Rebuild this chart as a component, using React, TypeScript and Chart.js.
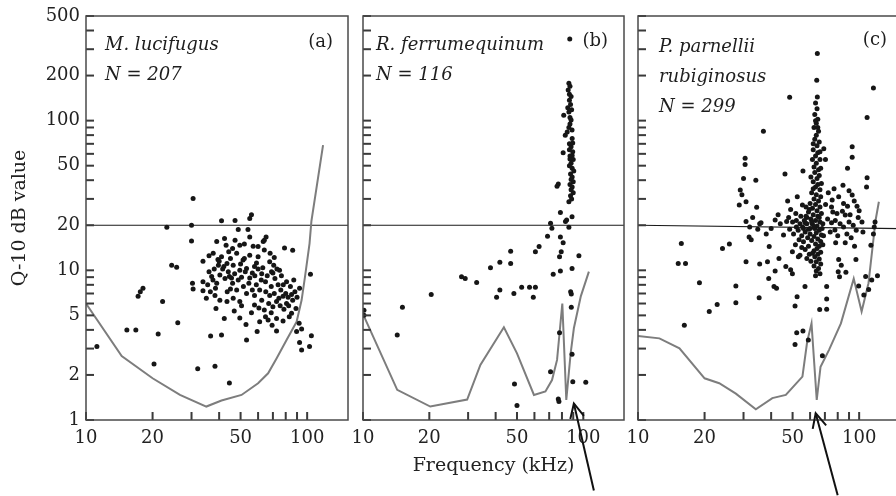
import React, { useEffect, useRef } from 'react';
import { Chart, registerables } from 'chart.js';

Chart.register(...registerables);

const FONT = '"DejaVu Serif", "Liberation Serif", serif';

// ---- axis ticks ----
const xTickValues = [10, 20, 30, 40, 50, 60, 70, 80, 90, 100];
const xTickLabels = [10, 20, 50, 100];
const yTickValues = [1, 2, 3, 4, 5, 6, 7, 8, 9, 10, 20, 30, 40, 50, 60, 70, 80, 90, 100, 200, 300, 400, 500];
const yTickLabels = [1, 2, 5, 10, 20, 50, 100, 200, 500];

// ---- panel (a) M. lucifugus : [frequency kHz, Q-10 dB] ----
const pointsA: [number, number][] = [
  [11.2, 3.1], [15.3, 4.0], [16.8, 4.0], [17.2, 6.7], [18.1, 7.6], [17.6, 7.2], [22.2, 6.2], [21.2, 3.75],
  [20.3, 2.37], [26, 4.46], [24.4, 10.8], [25.7, 10.5], [23.2, 19.4], [30, 20], [30.5, 30.2], [30, 15.7],
  [30.3, 8.2], [30.5, 7.5], [32, 2.2], [36.6, 3.64], [38.3, 2.29], [41, 3.7], [44.5, 1.77], [38.7, 5.56],
  [42.2, 4.77], [53.2, 3.42], [59.4, 3.9], [72.7, 3.93], [92.4, 3.3], [102.5, 3.1], [94.4, 2.93], [104.5, 3.66],
  [103.5, 9.4], [79, 14.1], [86, 13.6], [65.2, 16.7], [63.3, 15.6], [41, 21.4], [47.2, 21.5], [55, 22.2],
  [56, 23.5], [48.8, 18.7], [54, 18.7],
  [33.8, 11.5], [33.8, 8.4], [33.8, 7.3], [35, 6.5], [38.3, 6.8], [40.3, 6.3], [43.4, 6.2], [46.3, 6.5],
  [49.6, 6.2], [53.2, 7], [57.8, 6.8], [57.8, 5.86], [62.3, 6.3], [67.7, 6.8], [72.7, 6.2], [77.8, 6.7],
  [80.7, 6], [88, 7.2], [92.4, 7.6],
  [37, 9.1], [40.3, 9.3], [39, 8.2], [45.5, 8.9], [48.8, 8.6], [55, 8.9], [58.9, 8], [64.8, 8.4],
  [68.8, 7.8], [73.9, 8], [80.7, 8.4],
  [39.7, 10.8], [43.4, 11.1], [46.3, 10.8], [49.6, 10], [53.2, 10.3], [57.8, 10.6], [62.3, 9.5], [75, 10],
  [70.6, 10.8], [67.7, 11.4],
  [37.6, 13], [41, 12.3], [44.2, 13.3], [48, 13], [51.3, 11.7], [55, 12.6], [60, 12.3],
  [39, 15.6], [42.3, 16.3], [47.2, 15.9], [49.6, 14.7], [55, 16.7], [60, 14.4], [64, 15.9], [64, 13.65],
  [64, 5.43], [68.8, 5.2], [72.7, 4.77], [64.8, 4.9], [52.9, 4.35], [61, 4.53], [66.6, 4.66], [69.4, 4.3],
  [77.8, 4.58], [85, 5.16], [89, 5.56], [92, 4.43], [89.6, 3.9], [94.4, 4.05], [46.8, 5.35], [49.6, 4.8],
  [36, 9.8], [37.5, 8.6], [38.5, 7.6], [36.5, 7.2], [41.5, 10.2], [42.5, 8.8], [44, 9.8], [45, 7.5],
  [47, 9.5], [50.5, 9], [51.5, 7.8], [52, 12], [56.5, 9.6], [59, 11.2], [61, 7.4], [63, 10.4],
  [66, 9.2], [70, 9.6], [71, 7], [74.5, 6.5], [76, 7.4], [78.5, 5.5], [82, 6.6], [84, 7.8],
  [86, 6.3], [83, 4.9], [75.5, 5.8], [70, 5.7], [60.5, 5.6], [56, 5.2], [50.5, 5.8], [43.5, 7.2],
  [45, 12], [39.5, 11.8], [36, 12.5],
  [40, 11.5], [42, 10.6], [44.5, 9.1], [46, 8.2], [48, 7.4], [50, 11], [52.5, 9.8], [54.5, 8.2],
  [56.5, 7.4], [58, 9.2], [60, 10.2], [62, 8.6], [65, 7.2], [67, 6], [69, 9.8], [71.5, 8.8],
  [73, 10.2], [76.5, 9.2], [78, 8], [80, 7], [82.5, 5.8], [85, 6.9], [87, 8.6], [90, 6.6],
  [57, 14.5], [52, 15], [46, 14], [43, 14.7], [38, 10.2], [35.5, 8], [68, 13], [71, 12.2],
];
const curveA: [number, number][] = [
  [10, 6.0], [14.5, 2.67], [20, 1.9], [26.6, 1.47], [35, 1.23], [41, 1.35], [50.5, 1.47], [60, 1.76],
  [66.6, 2.05], [72.7, 2.58], [80.7, 3.42], [89.6, 4.53], [94.4, 6.33], [97.8, 9.06], [102.5, 15.1],
  [104.5, 21.2], [118, 68.6],
];
const criterionA: [number, number][] = [[10, 20], [153, 20]];

// ---- panel (b) R. ferrumequinum ----
const pointsB: [number, number][] = [
  [10.1, 5.0], [10.1, 5.4], [15.1, 5.66], [14.3, 3.7], [20.4, 6.9], [28, 9.06], [29.1, 8.8], [32.8, 8.3],
  [37.9, 10.4], [41.8, 11.3], [46.8, 11.1], [46.8, 13.4], [41.8, 7.4], [40.4, 6.6], [48.4, 7.0], [52.5, 7.7],
  [57, 7.7], [60.6, 7.7], [59.3, 6.6], [60.6, 13.3], [63, 14.4], [68.8, 16.9], [71, 20.6], [72, 19.1],
  [73, 9.4], [78, 12.3], [79.4, 13.3], [78.7, 9.9], [78.7, 16.7], [81, 15.3], [83, 21.2], [86, 19.4],
  [84, 21.7], [88.9, 10.3], [87.6, 7.2], [88.2, 6.95], [88.2, 5.66], [95.5, 12.5], [78, 3.83], [88.9, 2.75],
  [71, 2.1], [48.7, 1.74], [50, 1.25], [77, 1.38], [77.5, 1.33], [89.6, 1.8], [102.6, 1.79],
  [78.7, 24.3], [88.9, 22.8], [86, 28.7], [77, 37.7], [76, 36.5],
  [86.8, 351], [86, 178], [85.4, 160], [87, 170], [86.5, 150], [88, 145], [86.5, 137], [87.5, 128],
  [81.5, 108.8], [86, 114], [88, 101], [87, 95], [82.8, 80], [88.9, 86.5], [86, 90], [89, 76],
  [81, 61], [88, 67], [86.5, 70], [89.5, 62], [87, 58], [90, 55], [88, 52], [86.5, 50],
  [89, 48], [90.5, 46], [87.5, 44], [89, 42], [88, 40.5], [90, 39], [87, 37.5], [89, 36],
  [88, 34.5], [90, 33], [87.5, 31.5], [88.5, 30], [86.5, 64], [89.5, 71], [85, 122], [88.5, 118],
  [87, 105], [84.5, 84], [87, 55.5], [89, 58.5],
];
const curveB: [number, number][] = [
  [10, 5.1], [14.3, 1.59], [20.2, 1.23], [29.7, 1.37], [34.1, 2.33], [43.6, 4.16], [50, 2.79], [59.7, 1.47],
  [67.3, 1.55], [72.1, 1.85], [76, 2.52], [80.3, 6.0], [83.7, 1.36], [87.6, 2.79], [90.6, 4.1], [97.4, 6.7],
  [106, 9.8],
];
const criterionB: [number, number][] = [[10, 20], [153, 20]];

// ---- panel (c) P. parnellii rubiginosus ----
const pointsC: [number, number][] = [
  [64.7, 281], [64.3, 186], [116, 165], [48.5, 143], [64.7, 144], [108.6, 105], [36.9, 85], [93, 67],
  [93, 57], [88.6, 48], [108.6, 41.6], [108, 36], [30.5, 56], [30.5, 51], [30, 41], [34.1, 40],
  [46.2, 44], [55.7, 46], [69.2, 65], [70.4, 55], [29, 34.4], [29.5, 32], [28.7, 27.3], [30.8, 28.7],
  [34.4, 26.4], [41.7, 21.7], [51.7, 24], [55.4, 27.3], [75.5, 29.5], [80.8, 31], [85, 28], [88.6, 26.8],
  [97.8, 26.8], [93, 31.8], [79.4, 24], [86.5, 23.4], [30.8, 21.2], [35.5, 20.5],
  [15.7, 15.1], [15.2, 11.1], [16.4, 11.1], [18.96, 8.25], [16.2, 4.3], [21, 5.3], [22.8, 5.9], [24.1, 14],
  [25.9, 15], [27.7, 7.86], [27.7, 6.07], [30.8, 11.4], [31.8, 16.7], [32.5, 16], [35.5, 11], [35.3, 6.56],
  [34.8, 18.8], [38.5, 11.4], [39.2, 14.4], [39, 8.8], [41.7, 9.9], [41.2, 7.8], [42.3, 7.6], [43.4, 12],
  [46.6, 10.6], [49, 10.1], [49.9, 9.5], [49.9, 13.3], [53.1, 12.3], [54, 12.6], [52.4, 6.67], [51.3, 5.77],
  [56.9, 7.8], [52.2, 3.83], [55.7, 3.93], [51.3, 3.2], [58.9, 3.42], [71.3, 7.8], [71.3, 6.43], [71.3, 5.5],
  [66.3, 5.48], [68.2, 2.69], [78.3, 15.3], [86.5, 15.3], [95.3, 14.5], [80.8, 11.8], [83, 10.8], [80.4, 9.8],
  [87.1, 9.7], [81.5, 9.06], [96.7, 11.8], [99.5, 7.86], [110.4, 7.45], [114, 8.6], [105, 6.83], [77.7, 18.6],
  [63.5, 131], [64.5, 120], [63, 110], [65, 102], [64, 96], [62.5, 90], [65.5, 85], [64, 80],
  [63, 75], [66, 72], [64.5, 68], [62, 64], [65, 61], [63.5, 58], [66.5, 55], [64, 52],
  [62.5, 49], [65.5, 47], [63, 45], [66, 43], [64.5, 41], [62, 39], [65, 37.5], [63.5, 36],
  [66.5, 34.5], [61, 33], [64, 32], [67, 31], [62.5, 30], [65.5, 29], [60, 28], [63.5, 27.5],
  [66.5, 26.5], [61.5, 26], [64.5, 25], [59, 24.5], [67.5, 24], [62, 23.5], [65, 23], [58, 22.5],
  [60.5, 22], [63.5, 21.5], [66.5, 21], [57, 20.8], [61.5, 20.3], [68.5, 20.5], [64.5, 19.8],
  [63, 19], [66, 18.5], [64, 17.8], [67.5, 17.2], [62.5, 16.8], [65, 16.2], [67, 15.6], [63.5, 15],
  [66, 14.5], [64.5, 14], [62.5, 13.5], [67, 13.2], [65, 12.8], [63, 12.3], [66, 11.9], [64, 11.4],
  [67, 11], [62.5, 10.7], [65.5, 10.3], [64, 9.9], [66.5, 9.5], [63.5, 9.2],
  [52, 21.5], [54, 20.5], [55.5, 19.5], [53, 18.5], [57, 18], [55, 17], [58.5, 16.5], [56, 15.5],
  [53.5, 16], [59, 14.5], [57, 13.8], [55, 14.2], [60, 19], [58, 20.5], [56.5, 21.5], [50.5, 17.5],
  [51.5, 14.8], [59.5, 12.8],
  [72, 22], [75, 20.8], [78, 21.5], [82, 20.5], [85, 19.5], [90, 21], [94, 20], [97, 18.5],
  [74, 18], [80, 17], [88, 17.5], [92, 16.5], [76, 24.5], [84, 24.8], [91, 23.5], [99, 22.5],
  [72.5, 33], [77, 35], [84.5, 37], [90, 34], [95, 29], [75, 26.5], [70.5, 27.5], [100, 25],
  [103, 21], [104, 18],
  [32, 19.5], [36, 20.8], [40, 19], [44, 20.5], [47, 21.2], [48.5, 18.8], [45.5, 17.2], [38, 17.5],
  [33, 22.5], [43, 23.5], [49, 25.5], [47.5, 29], [52.5, 31],
  [113, 14.7], [116, 17.5], [118, 21], [117, 19.5], [121, 9.2], [107, 9.1],
  [57.5, 23], [59.5, 25.5], [61, 21], [62.5, 19.5], [60, 17.5], [61, 15.8], [59, 18.8], [66, 22.5],
  [68, 19], [69, 17], [68.5, 14.8], [60.5, 11.5], [61.5, 13], [58, 12], [56, 19], [54.5, 23],
  [52, 19.5], [50, 21], [48, 22.5], [57.5, 26.5], [62, 35], [60.5, 42], [67.5, 38], [67, 48],
  [61.5, 55], [66.5, 62], [62, 70], [65, 90], [63.5, 100],
];
const curveC: [number, number][] = [
  [10, 3.64], [12.5, 3.51], [15.4, 3.01], [20, 1.9], [23.3, 1.76], [27.7, 1.5], [34.1, 1.18], [40.5, 1.4],
  [46.6, 1.47], [55.4, 1.95], [58.2, 3.33], [60.9, 4.42], [64.3, 1.36], [66.9, 2.27], [73, 2.93], [82.7, 4.42],
  [94.5, 8.8], [102.6, 5.3], [110.2, 8.2], [118.7, 21.7], [122.8, 28.7],
];
const criterionC: [number, number][] = [[10, 20], [153, 19]];

type Arrow = { f: number; q: number; dx: number; dy: number };
type Panel = {
  id: string;
  canvasLeft: number;
  canvasWidth: number;
  yAxisWidth: number;
  padRight: number;
  showYLabels: boolean;
  yTitle?: string;
  xTitle?: string;
  points: [number, number][];
  curve: [number, number][];
  criterion: [number, number][];
  lines: string[];
  textDx: number;
  textDy: number;
  tag: string;
  tagDx: number;
  tagDy: number;
  arrow?: Arrow;
};

const panels: Panel[] = [
  {
    id: 'a', canvasLeft: 0, canvasWidth: 360, yAxisWidth: 86, padRight: 12, showYLabels: true,
    yTitle: 'Q-10 dB value', points: pointsA, curve: curveA, criterion: criterionA,
    lines: ['M. lucifugus', 'N = 207'], textDx: 19, textDy: 34, tag: '(a)', tagDx: 15, tagDy: 31,
  },
  {
    id: 'b', canvasLeft: 340, canvasWidth: 300, yAxisWidth: 23, padRight: 16, showYLabels: false,
    xTitle: 'Frequency (kHz)', points: pointsB, curve: curveB, criterion: criterionB,
    lines: ['R. ferrumequinum', 'N = 116'], textDx: 13, textDy: 34, tag: '(b)', tagDx: 16, tagDy: 30,
    arrow: { f: 90.6, q: 1.29, dx: 20, dy: 87 },
  },
  {
    id: 'c', canvasLeft: 614, canvasWidth: 296, yAxisWidth: 24, padRight: 10, showYLabels: false,
    points: pointsC, curve: curveC, criterion: criterionC,
    lines: ['P. parnellii', 'rubiginosus', 'N = 299'], textDx: 21, textDy: 36, tag: '(c)', tagDx: 13, tagDy: 29,
    arrow: { f: 63.6, q: 1.11, dx: 22, dy: 82 },
  },
];

const TICK_LEN = 8;
const TICK_W = 2;

function drawTicksAndFrame(chart: any) {
  const ctx = chart.ctx;
  const area = chart.chartArea;
  const xs = chart.scales.x;
  const ys = chart.scales.y;
  ctx.save();
  ctx.globalAlpha = 1;
  ctx.globalCompositeOperation = 'source-over';
  ctx.fillStyle = '#3a3a3a';
  for (let i = 0; i < xTickValues.length; i++) {
    const px = xs.getPixelForValue(xTickValues[i]);
    ctx.fillRect(px - TICK_W / 2, area.bottom - TICK_LEN, TICK_W, TICK_LEN);
  }
  for (let i = 0; i < yTickValues.length; i++) {
    const py = ys.getPixelForValue(yTickValues[i]);
    ctx.fillRect(area.left, py - TICK_W / 2, TICK_LEN, TICK_W);
  }
  ctx.strokeStyle = '#4a4a4a';
  ctx.lineWidth = 1.5;
  ctx.strokeRect(area.left, area.top, area.right - area.left, area.bottom - area.top);
  ctx.restore();
}

function makeAnnotationPlugin(p: Panel) {
  return {
    id: 'annot' + p.id,
    afterDraw(chart: any) {
      drawTicksAndFrame(chart);
      const { ctx, chartArea } = chart;
      ctx.save();
      ctx.fillStyle = '#1e1e1e';
      ctx.textBaseline = 'alphabetic';
      ctx.textAlign = 'left';
      ctx.font = `italic 18px ${FONT}`;
      p.lines.forEach((t, i) => {
        ctx.fillText(t, chartArea.left + p.textDx, chartArea.top + p.textDy + i * 30);
      });
      ctx.font = `18px ${FONT}`;
      ctx.textAlign = 'right';
      ctx.fillText(p.tag, chartArea.right - p.tagDx, chartArea.top + p.tagDy);
      if (p.arrow) {
        const a = p.arrow;
        const x = chart.scales.x.getPixelForValue(a.f);
        const y = chart.scales.y.getPixelForValue(a.q);
        ctx.strokeStyle = '#111';
        ctx.lineWidth = 2;
        ctx.beginPath();
        ctx.moveTo(x + a.dx, y + a.dy);
        ctx.lineTo(x, y);
        ctx.stroke();
        const ang = Math.atan2(a.dy, a.dx);
        const len = 16;
        const spread = 0.45;
        ctx.beginPath();
        ctx.moveTo(x + len * Math.cos(ang - spread), y + len * Math.sin(ang - spread));
        ctx.lineTo(x, y);
        ctx.lineTo(x + len * Math.cos(ang + spread), y + len * Math.sin(ang + spread));
        ctx.stroke();
      }
      ctx.restore();
    },
  };
}

function buildConfig(p: Panel): any {
  const toXY = (arr: [number, number][]) => arr.map(([x, y]) => ({ x, y }));
  return {
    type: 'scatter',
    data: {
      datasets: [
        {
          data: toXY(p.points), backgroundColor: '#161616', borderColor: '#161616', borderWidth: 0,
          pointRadius: 2.5, pointHoverRadius: 2.5,
        },
        {
          data: toXY(p.curve), showLine: true, borderColor: '#7d7d7d', borderWidth: 2, pointRadius: 0,
          fill: false, tension: 0,
        },
        {
          data: toXY(p.criterion), showLine: true, borderColor: '#1a1a1a', borderWidth: 1.2, pointRadius: 0,
          fill: false,
        },
      ],
    },
    options: {
      responsive: false,
      animation: false,
      events: [],
      layout: { padding: { top: 16, right: p.padRight, bottom: 0, left: 0 } },
      plugins: { legend: { display: false }, tooltip: { enabled: false } },
      scales: {
        x: {
          type: 'logarithmic', position: 'bottom', min: 10, max: 153,
          afterBuildTicks: (s: any) => { s.ticks = xTickValues.map((value) => ({ value })); },
          afterFit: (s: any) => { s.height = 76; },
          grid: { display: false, drawTicks: false, tickLength: 0 },
          border: { display: false },
          ticks: {
            autoSkip: false, maxRotation: 0, minRotation: 0, padding: 8, color: '#222',
            font: { family: FONT, size: 18 },
            callback: (v: any) => (xTickLabels.includes(Number(v)) ? String(v) : ''),
          },
          title: {
            display: !!p.xTitle, text: p.xTitle || '', color: '#222',
            font: { family: FONT, size: 19 }, padding: { top: 0, bottom: 19 },
          },
        },
        y: {
          type: 'logarithmic', position: 'left', min: 1, max: 500,
          afterBuildTicks: (s: any) => { s.ticks = yTickValues.map((value) => ({ value })); },
          afterFit: (s: any) => { s.width = p.yAxisWidth; },
          grid: { display: false, drawTicks: false, tickLength: 0 },
          border: { display: false },
          ticks: {
            display: p.showYLabels, autoSkip: false, padding: 6, color: '#222',
            font: { family: FONT, size: 18, lineHeight: 1.05 },
            callback: (v: any) => (yTickLabels.includes(Number(v)) ? String(v) : ''),
          },
          title: {
            display: !!p.yTitle, text: p.yTitle || '', color: '#222',
            font: { family: FONT, size: 19 }, padding: { top: 9, bottom: 0 },
          },
        },
      },
    },
    plugins: [makeAnnotationPlugin(p)],
  };
}

function PanelChart({ panel }: { panel: Panel }) {
  const ref = useRef<HTMLCanvasElement>(null);
  useEffect(() => {
    if (!ref.current) return;
    const chart = new Chart(ref.current, buildConfig(panel));
    return () => chart.destroy();
  }, [panel]);
  return (
    <canvas
      ref={ref}
      width={panel.canvasWidth}
      height={496}
      style={{ position: 'absolute', left: panel.canvasLeft, top: 0, width: panel.canvasWidth, height: 496 }}
    />
  );
}

export default function App() {
  useEffect(() => {
    document.body.style.margin = '0';
  }, []);
  return (
    <div
      style={{
        position: 'absolute', left: 0, top: 0, width: 896, height: 496,
        overflow: 'hidden', background: '#ffffff',
      }}
    >
      {panels.map((p) => (
        <PanelChart key={p.id} panel={p} />
      ))}
    </div>
  );
}
